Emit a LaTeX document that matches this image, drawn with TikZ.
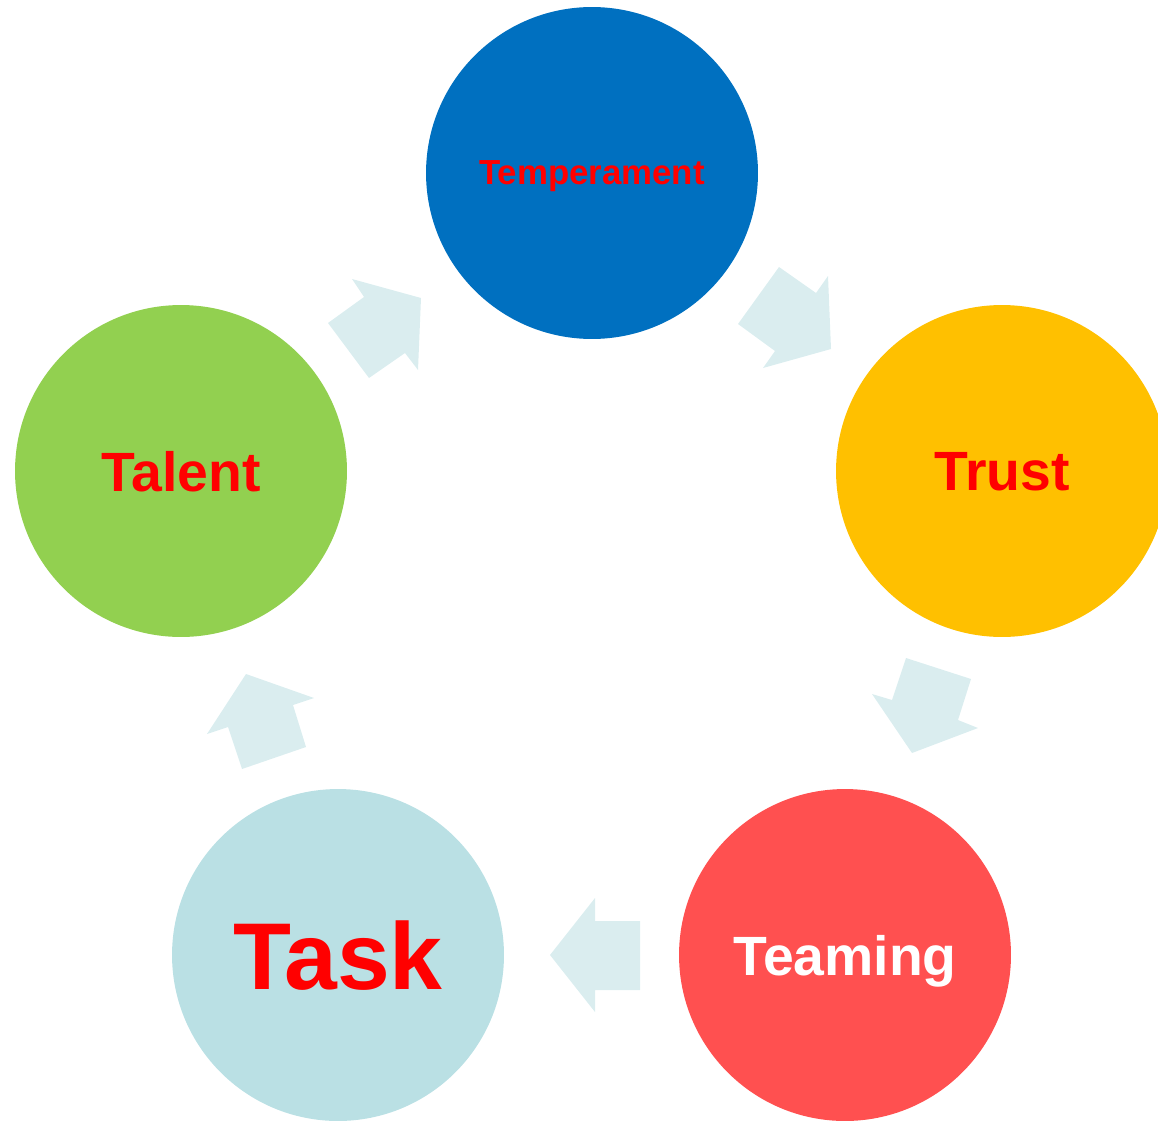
\documentclass[tikz,border=0pt]{standalone}
\usepackage{fontspec}
\setmainfont{Liberation Sans}
\usepackage{xcolor}
\usepackage{tikz}
\usetikzlibrary{positioning}

\definecolor{tempblue}{HTML}{0070C0}
\definecolor{trustyellow}{HTML}{FFC000}
\definecolor{teamred}{HTML}{FF5050}
\definecolor{taskblue}{HTML}{BAE0E4}
\definecolor{talentgreen}{HTML}{92D050}
\definecolor{arrowblue}{HTML}{DAEDEF}

\begin{document}
\begin{tikzpicture}[x=0.02cm, y=-0.02cm,
        phase/.style={circle, minimum size=6.64cm, inner sep=0pt, text depth=0pt, text=red},
        cyclearrow/.style={fill=arrowblue}]
        \useasboundingbox (0,0) rectangle (1158,1122);
        \node[phase, fill=tempblue, font=\bfseries\fontsize{19.8}{20}\selectfont] (Temperament) at (592,173) {Temperament};
        \node[phase, fill=trustyellow, font=\bfseries\fontsize{31.5}{32}\selectfont] (Trust) at (1002,471) {Trust};
        \node[phase, fill=teamred, text=white, font=\bfseries\fontsize{31.5}{32}\selectfont] (Teaming) at (845,955) {Teaming};
        \node[phase, fill=taskblue, font=\bfseries\fontsize{54}{55}\selectfont] (Task) at (338,955) {Task};
        \node[phase, fill=talentgreen, font=\bfseries\fontsize{31.5}{32}\selectfont] (Talent) at (181,471) {Talent};
        \fill[cyclearrow] (328,323) -- (364,297) -- (352,279) -- (421,298) -- (418,370) -- (405,353) -- (369,378) -- cycle;
        \fill[cyclearrow] (738,324) -- (779,267) -- (816,293) -- (828,276) -- (831,349) -- (763,368) -- (775,351) -- cycle;
        \fill[cyclearrow] (906,658) -- (971,679) -- (958,720) -- (978,728) -- (912,753) -- (872,694) -- (892,700) -- cycle;
        \fill[cyclearrow] (640,921) -- (640,990) -- (595,990) -- (595,1012) -- (550,955) -- (595,898) -- (595,921) -- cycle;
        \fill[cyclearrow] (306,747) -- (242,769) -- (228,727) -- (207,734) -- (246,674) -- (314,698) -- (293,705) -- cycle;
    \end{tikzpicture}
\end{document}
